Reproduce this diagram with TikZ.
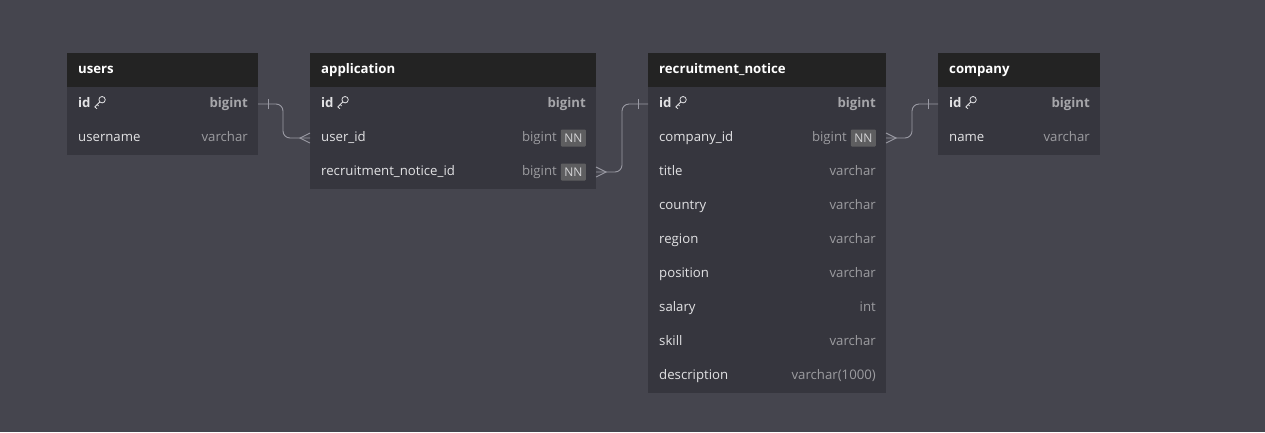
\documentclass[tikz,border=0pt]{standalone}
\usepackage{fontspec}
\setmainfont{Open Sans}
\usetikzlibrary{calc}
\definecolor{bgc}{HTML}{45454E}
\definecolor{rowc}{HTML}{36363E}
\definecolor{hdrc}{HTML}{232323}
\definecolor{namec}{HTML}{E2E2E4}
\definecolor{typec}{HTML}{9C9CA0}
\definecolor{idtypec}{HTML}{A6A6AA}
\definecolor{nnfill}{HTML}{5E5E60}
\definecolor{nntext}{HTML}{D4D4D6}
\definecolor{linkc}{HTML}{9A9AA4}
\tikzset{
  hdr/.style={fill=hdrc, draw=none, anchor=north west, minimum height=34pt, inner sep=0pt, outer sep=0pt},
  rowbg/.style={fill=rowc, draw=none, anchor=north west, minimum height=34pt, inner sep=0pt, outer sep=0pt},
  ttl/.style={anchor=base west, inner sep=0pt, text=white, font=\fontsize{13.2}{15}\selectfont\bfseries},
  fname/.style={anchor=base west, inner sep=0pt, text=namec, font=\fontsize{13.2}{15}\selectfont},
  ftype/.style={anchor=base east, inner sep=0pt, text=typec, font=\fontsize{13.2}{15}\selectfont},
  idname/.style={fname, font=\fontsize{13.2}{15}\selectfont\bfseries},
  idtype/.style={ftype, text=idtypec, font=\fontsize{13.2}{15}\selectfont\bfseries},
  nnbadge/.style={anchor=east, fill=nnfill, text=nntext, inner sep=0pt, minimum width=25pt, minimum height=17pt, rounded corners=1pt, font=\fontsize{12}{14}\selectfont},
  link/.style={draw=linkc, line width=0.9pt, rounded corners=7pt},
  linkend/.style={draw=linkc, line width=0.9pt},
  keyline/.style={draw=namec, line width=0.8pt, line cap=round, line join=round},
}
\newcommand\erHead[5]{% name, x, y, width, title
  \node[hdr, minimum width=#4pt] (#1) at (#2,#3) {};
  \node[ttl] (#1-title) at ($(#1.west)+(11,3)$) {#5};
}
\newcommand\erRow[6]{% name, x, y, width, field, type
  \node[rowbg, minimum width=#4pt] (#1) at (#2,#3) {};
  \node[fname] (#1-n) at ($(#1.west)+(11,3)$) {#5};
  \node[ftype] (#1-t) at ($(#1.east)+(-10,3)$) {#6};
}
\newcommand\erNNRow[6]{% name, x, y, width, field, type
  \node[rowbg, minimum width=#4pt] (#1) at (#2,#3) {};
  \node[fname] (#1-n) at ($(#1.west)+(11,3)$) {#5};
  \node[nnbadge] (#1-nn) at ($(#1.east)+(-10,0)$) {NN};
  \node[ftype] (#1-t) at ($(#1.east)+(-39,3)$) {#6};
}
\newcommand\erIdRow[5]{% name, x, y, width, type
  \node[rowbg, minimum width=#4pt] (#1) at (#2,#3) {};
  \node[idname] (#1-n) at ($(#1.west)+(11,3)$) {id};
  \node[ftype, idtype] (#1-t) at ($(#1.east)+(-10,3)$) {#5};
  \coordinate (#1-k) at ($(#1-n.base east)+(9,-5)$);
  \draw[keyline] ($(#1-k)+(2.3,-2.3)$) circle (3.2pt);
  \draw[keyline] ($(#1-k)+(0,0)$) -- ($(#1-k)+(-5,5)$) -- ($(#1-k)+(-3,6.5)$);
  \draw[keyline] ($(#1-k)+(-2.6,2.6)$) -- ($(#1-k)+(-1.3,3.9)$);
}
\begin{document}
\begin{tikzpicture}[x=1pt,y=-1pt]
\fill[bgc] (0,0) rectangle (1265,432);
\useasboundingbox (0,0) rectangle (1265,432);
% users
\erHead{users}{67}{53}{191}{users}
\erIdRow{users-id}{67}{87}{191}{bigint}
\erRow{users-username}{67}{121}{191}{username}{varchar}
% application
\erHead{app}{310}{53}{286}{application}
\erIdRow{app-id}{310}{87}{286}{bigint}
\erNNRow{app-userid}{310}{121}{286}{user\_id}{bigint}
\erNNRow{app-rnid}{310}{155}{286}{recruitment\_notice\_id}{bigint}
% recruitment_notice
\erHead{rn}{648}{53}{238}{recruitment\_notice}
\erIdRow{rn-id}{648}{87}{238}{bigint}
\erNNRow{rn-companyid}{648}{121}{238}{company\_id}{bigint}
\erRow{rn-title}{648}{155}{238}{title}{varchar}
\erRow{rn-country}{648}{189}{238}{country}{varchar}
\erRow{rn-region}{648}{223}{238}{region}{varchar}
\erRow{rn-position}{648}{257}{238}{position}{varchar}
\erRow{rn-salary}{648}{291}{238}{salary}{int}
\erRow{rn-skill}{648}{325}{238}{skill}{varchar}
\erRow{rn-description}{648}{359}{238}{description}{varchar(1000)}
% company
\erHead{company}{938}{53}{162}{company}
\erIdRow{company-id}{938}{87}{162}{bigint}
\erRow{company-name}{938}{121}{162}{name}{varchar}
% links
\draw[link] (users-id.east) -- ++(25,0) |- (app-userid.west);
\draw[linkend] ($(users-id.east)+(10,-5)$) -- ++(0,10);
\draw[linkend] ($(app-userid.west)+(0,-5)$) -- ($(app-userid.west)+(-10,0)$) -- ($(app-userid.west)+(0,5)$);
\draw[link] (app-rnid.east) -- ++(26,0) |- (rn-id.west);
\draw[linkend] ($(rn-id.west)+(-10,-5)$) -- ++(0,10);
\draw[linkend] ($(app-rnid.east)+(0,-5)$) -- ($(app-rnid.east)+(10,0)$) -- ($(app-rnid.east)+(0,5)$);
\draw[link] (rn-companyid.east) -- ++(26,0) |- (company-id.west);
\draw[linkend] ($(company-id.west)+(-10,-5)$) -- ++(0,10);
\draw[linkend] ($(rn-companyid.east)+(0,-5)$) -- ($(rn-companyid.east)+(10,0)$) -- ($(rn-companyid.east)+(0,5)$);
\end{tikzpicture}
\end{document}
